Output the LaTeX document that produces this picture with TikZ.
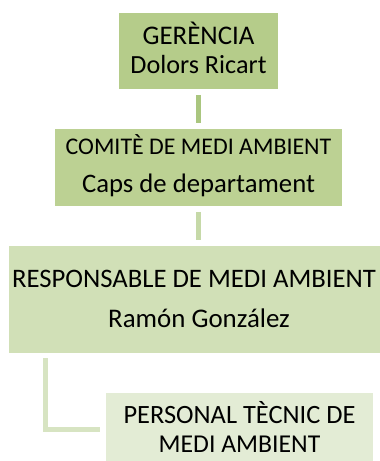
\documentclass[tikz,border=0pt]{standalone}
\usepackage{fontspec}
\setmainfont{Carlito}
\definecolor{boxA}{HTML}{B5CC8A}
\definecolor{boxB}{HTML}{BCD193}
\definecolor{boxC}{HTML}{D1E0B7}
\definecolor{boxD}{HTML}{E3ECD5}
\definecolor{lnA}{HTML}{AAC67F}
\definecolor{lnB}{HTML}{C6D9A8}
\definecolor{lnC}{HTML}{D7E4C2}
\tikzset{
  orgbox/.style={rectangle, inner sep=0pt, outer sep=0pt, draw=none},
  lbl/.style={inner sep=0pt, anchor=base, text=black},
  conn/.style={line width=5bp},
}
\begin{document}
\begin{tikzpicture}[x=1bp,y=-1bp]
\useasboundingbox (0,0) rectangle (379,461);
% boxes
\node[orgbox, fill=boxA, minimum width=159bp, minimum height=76bp] (ger) at (198.5,51) {};
\node[orgbox, fill=boxB, minimum width=287bp, minimum height=77bp] (com) at (198.5,167.5) {};
\node[orgbox, fill=boxC, minimum width=372bp, minimum height=107bp] (resp) at (195,299.5) {};
\node[orgbox, fill=boxD, minimum width=267bp, minimum height=70bp] (pers) at (239.5,428) {};
% labels
\node[lbl, font=\fontsize{27}{26}\selectfont] (t1) at (198.5,45) {GERÈNCIA};
\node[lbl, font=\fontsize{26.3}{26}\selectfont] (t2) at (198.5,74) {Dolors Ricart};
\node[lbl, font=\fontsize{24}{24}\selectfont] (t3) at (198.5,155) {COMITÈ DE MEDI AMBIENT};
\node[lbl, font=\fontsize{26.8}{26}\selectfont] (t4) at (198.5,193) {Caps de departament};
\node[lbl, font=\fontsize{26.8}{26}\selectfont] (t5) at (194,287) {RESPONSABLE DE MEDI AMBIENT};
\node[lbl, font=\fontsize{27}{26}\selectfont] (t6) at (199,327) {Ramón González};
\node[lbl, font=\fontsize{26.5}{26}\selectfont] (t7) at (239.5,423) {PERSONAL TÈCNIC DE};
\node[lbl, font=\fontsize{25.8}{26}\selectfont] (t8) at (239.5,452) {MEDI AMBIENT};
% connectors
\coordinate (c1a) at (198.5,95);
\coordinate (c1b) at (198.5,123);
\draw[conn, lnA] (c1a) -- (c1b);
\coordinate (c2a) at (198.5,212);
\coordinate (c2b) at (198.5,240);
\draw[conn, lnB] (c2a) -- (c2b);
\coordinate (c3a) at (45.5,358);
\coordinate (c3b) at (100,429);
\draw[conn, lnC] (c3a) |- (c3b);
\end{tikzpicture}
\end{document}
